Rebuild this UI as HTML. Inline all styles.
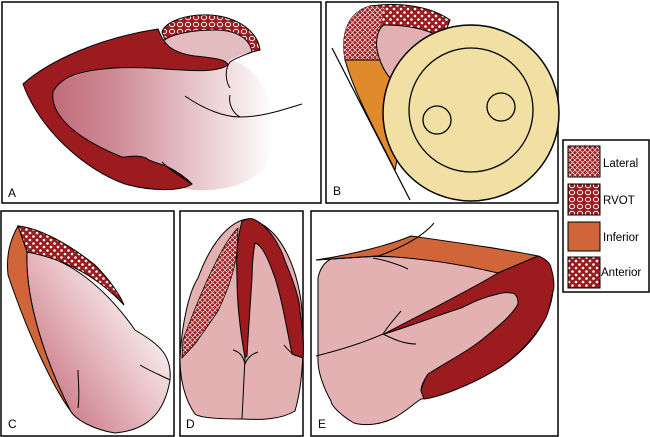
<!DOCTYPE html>
<html><head><style>
body{margin:0;background:#fff;width:650px;height:437px;overflow:hidden;font-family:"Liberation Sans",sans-serif}
svg{display:block}
</style></head><body>
<svg width="650" height="437" viewBox="0 0 650 437" xmlns="http://www.w3.org/2000/svg">
<defs>
<pattern id="dots" width="7" height="7" patternUnits="userSpaceOnUse"><rect width="7" height="7" fill="#9b1b1f"/><circle cx="2" cy="2" r="1.3" fill="#fff"/><circle cx="5.5" cy="5.5" r="1.3" fill="#fff"/></pattern>
<pattern id="hatch" width="5" height="5" patternUnits="userSpaceOnUse"><rect width="5" height="5" fill="#9b1b1f"/><path d="M0 0L5 5M5 0L0 5" stroke="#f3d0d0" stroke-width="0.8"/></pattern>
<pattern id="rings" width="8" height="7" patternUnits="userSpaceOnUse"><rect width="8" height="7" fill="#9b1b1f"/><ellipse cx="4" cy="3.5" rx="2.6" ry="2.2" fill="none" stroke="#fff" stroke-width="1"/></pattern>
<linearGradient id="gA" x1="0" x2="1"><stop offset="0" stop-color="#c06a78"/><stop offset="0.3" stop-color="#cf8d97"/><stop offset="1" stop-color="#fff"/></linearGradient>
<linearGradient id="gC" x1="0.1" y1="0.9" x2="0.9" y2="0.2"><stop offset="0" stop-color="#c56e7c"/><stop offset="0.5" stop-color="#e5b8bd"/><stop offset="1" stop-color="#fff"/></linearGradient>
</defs>
<g fill="none" stroke="#000" stroke-width="1.5">
<rect x="2" y="2" width="319" height="201"/>
<rect x="326" y="2" width="232" height="201"/>
<rect x="563" y="140" width="86" height="152"/>
<rect x="1" y="211" width="173" height="225"/>
<rect x="180" y="211" width="123" height="225"/>
<rect x="311" y="211" width="247" height="225"/>
</g>
<!-- A -->
<path d="M50 90 C70 72 110 64 160 66 C200 68 225 72 230 60 C255 65 275 95 275 135 C275 175 240 192 195 190 C150 185 90 175 60 135 Z" fill="url(#gA)"/>
<path d="M165 38 C175 30 200 28 220 30 C240 33 250 42 252 52 C240 55 232 58 228 62 C200 60 175 55 165 45Z" fill="#e4bcc0"/>
<path d="M23 84 C50 60 100 38 158 29 C163 40 166 52 195 56 C215 58 228 60 228 65 C215 74 185 70 150 68 C100 66 62 72 53 92 C50 115 75 138 122 157 C125 158 135 154 146 158 C150 162 160 163 168 167 C178 172 186 178 192 184 C180 192 150 191 125 184 C85 170 40 130 23 84Z" fill="#9b1b1f" stroke="#000" stroke-width="1"/>
<path d="M162 32 C165 22 185 14 210 15 C240 17 258 33 260 50 L252 52 C250 40 238 30 215 30 C190 30 170 35 165 40Z" fill="url(#rings)" stroke="#000" stroke-width="1"/>
<path d="M252 52 C245 55 235 58 230 62 C224 70 226 82 230 88 M230 95 C228 105 234 114 240 117 C262 117 282 110 302 104 M185 96 C205 110 225 117 240 117 M162 162 C170 170 180 176 192 184" fill="none" stroke="#000" stroke-width="1"/>
<text x="8" y="197" font-size="12">A</text>
<!-- B -->
<path d="M345 60 C340 30 350 12 370 6 C400 2 430 6 450 20 L420 100 C395 95 380 80 370 60Z" fill="url(#dots)" stroke="#000" stroke-width="1"/>
<path d="M345 60 C340 30 350 12 370 6 L385 8 C378 30 375 50 380 60Z" fill="url(#hatch)"/>
<path d="M345 60 L380 60 C385 75 395 85 410 95 L395 170 C375 130 355 95 345 60Z" fill="#e08a2c" stroke="#000" stroke-width="1"/>
<path d="M380 60 C372 40 380 25 385 25 C420 25 440 35 455 45 L410 95 C395 85 385 75 380 60Z" fill="#e2b0b3" stroke="#000" stroke-width="1"/>
<line x1="332" y1="48" x2="410" y2="200" stroke="#000" stroke-width="1.2"/>
<circle cx="471" cy="113" r="88" fill="#f2dfa4" stroke="#000" stroke-width="1.5"/>
<circle cx="471" cy="110" r="62" fill="none" stroke="#000" stroke-width="1.3"/>
<circle cx="437" cy="120" r="14" fill="none" stroke="#000" stroke-width="1.3"/>
<circle cx="501" cy="107" r="14" fill="none" stroke="#000" stroke-width="1.3"/>
<text x="333" y="195" font-size="12">B</text>
<!-- legend -->
<g stroke="#000" stroke-width="1">
<rect x="568" y="146" width="32" height="31" fill="url(#hatch)"/>
<rect x="568" y="184" width="32" height="31" fill="url(#rings)"/>
<rect x="568" y="222" width="32" height="29" fill="#d0653a"/>
<rect x="568" y="257" width="32" height="31" fill="url(#dots)"/>
</g>
<g font-size="11.5"><text x="603" y="167">Lateral</text><text x="603" y="204">RVOT</text><text x="603" y="241">Inferior</text><text x="601" y="276">Anterior</text></g>
<!-- C -->
<path d="M27 252 C60 255 100 280 135 330 C160 345 172 355 170 380 C165 410 150 430 115 433 C95 430 75 420 70 410 C45 360 25 300 27 252Z" fill="url(#gC)" stroke="#000" stroke-width="1"/>
<path d="M18 226 C40 228 70 245 95 265 C110 280 120 295 124 305 C110 290 80 262 27 252Z" fill="url(#dots)" stroke="#000" stroke-width="1"/>
<path d="M18 226 L27 252 C25 300 45 360 70 410 C55 390 30 340 8 275 C6 255 10 240 18 226Z" fill="#d0653a" stroke="#000" stroke-width="1"/>
<path d="M140 365 C148 370 160 375 170 380 M78 408 C80 395 78 380 78 370" fill="none" stroke="#000" stroke-width="1"/>
<text x="8" y="428" font-size="12">C</text>
<!-- D -->
<path d="M247 219 C285 225 300 280 302 311 C304 340 304 380 295 411 C280 420 260 420 242 419 C220 419 200 418 195 414 C185 400 180 380 180 358 C182 320 190 290 198 278 C210 245 228 222 247 219Z" fill="#e4b1b3" stroke="#000" stroke-width="1"/>
<path d="M238 228 C225 240 205 280 183 340 L182 358 L195 344 C205 330 212 320 218 311 C228 290 235 270 237 251Z" fill="url(#hatch)" stroke="#000" stroke-width="0.7"/>
<path d="M242 221 C246 219 250 218 253 219 C268 225 280 245 285 261 C293 280 300 300 300 311 C303 330 304 345 303 358 L292 354 C285 320 282 300 275 278 C268 258 262 245 255 243 C252 260 252 270 252 278 C250 310 248 335 247 356 L245 358 C240 330 237 300 237 278 C236 255 237 240 242 221Z" fill="#9b1b1f" stroke="#000" stroke-width="1"/>
<path d="M245 358 L242 419 M233 350 C240 352 243 356 245 364 C248 357 252 354 258 352 M284 345 C288 350 292 354 296 356" fill="none" stroke="#000" stroke-width="1"/>
<text x="186" y="428" font-size="12">D</text>
<!-- E -->
<path d="M331 259 C360 257 378 255 410 258 C450 262 480 267 498 273 L538 256 L553 291 C550 320 530 350 494 371 C470 385 440 397 421 399 C412 405 405 412 394 418 C380 425 365 426 354 423 C340 415 331 405 331 401 C322 385 318 370 318 361 L318 278 C320 268 325 262 331 259Z" fill="#e4b1b3" stroke="#000" stroke-width="1"/>
<path d="M316 260 C350 255 390 245 411 236 C460 243 510 250 538 256 L498 273 C460 264 420 258 378 256 C360 257 345 258 331 259Z" fill="#d0653a" stroke="#000" stroke-width="1"/>
<path d="M384 334 C420 315 470 290 498 273 L538 256 C545 258 551 264 551 268 C555 280 554 291 553 291 C550 305 548 315 544 321 C530 345 510 362 494 371 C470 385 440 397 424 399 L421 391 C423 382 426 377 428 374 C450 360 470 350 484 338 C500 325 512 315 518 304 C518 296 515 293 511 293 C506 292 502 293 498 294 C480 298 470 304 461 308 C430 318 405 328 384 334Z" fill="#9b1b1f" stroke="#000" stroke-width="1"/>
<path d="M316 356 C340 350 365 342 383 334 M434 223 C420 240 390 252 378 256 L316 260 M373 258 C385 260 400 265 408 269 M401 311 C395 318 388 326 383 334 C395 340 405 344 416 344 M428 374 C424 380 421 386 421 391" fill="none" stroke="#000" stroke-width="1"/>
<text x="318" y="428" font-size="12">E</text>
</svg>
</body></html>
